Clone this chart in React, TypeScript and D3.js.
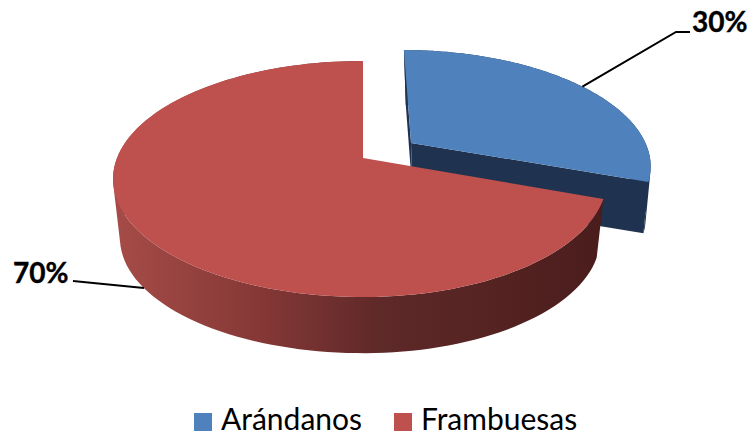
import React from 'react';
import * as d3 from 'd3';

const width = 751;
const height = 439;

const categories = ['Arándanos', 'Frambuesas'];
const values = [30, 70];
const labels = ['30%', '70%'];
const colors = ['#4F81BD', '#BE504D'];
const sideColors = ['#1F3350', '#4C1D1D'];

// perspective of the pie plane
const cx = 363;
const topY = 158;
const bottomY = 218;
const radiusLeft = 246;
const radiusRight = 240; // right half looks a bit narrower in the picture
const radiusY = 114.3;
const persp = 0.178;
const bottomScale = 0.972;
const warp = 0.05;
const explodeX = 0.205;
const explodeY = -0.135;
// exploded slice sits a little shallower than the main one
const lowerShiftX = 3;
const lowerShiftY = -8;

type Pt = [number, number];

// a = clockwise angle from 12 o'clock, r = unit radius
function project(a: number, r: number, e: number, lower: boolean): Pt {
  const b = a - warp * Math.sin(2 * a);
  const X = r * Math.sin(b) + e * explodeX;
  const Y = -r * Math.cos(b) + e * explodeY;
  const d = 1 - persp * Y;
  const s = lower ? bottomScale : 1;
  const rx = X > 0 ? radiusRight : radiusLeft;
  const px = cx + (s * rx * X) / d;
  const py = (lower ? bottomY : topY) + (s * radiusY * Y) / d;
  return lower ? [px + e * lowerShiftX, py + e * lowerShiftY] : [px, py];
}

const line = d3.line<Pt>();

function arcPoints(a0: number, a1: number, e: number, lower: boolean): Pt[] {
  const n = 120;
  return d3.range(n + 1).map((i) => project(a0 + ((a1 - a0) * i) / n, 1, e, lower));
}

// one path of many quads, so the silhouette between both planes stays closed
function wallPath(up: Pt[], low: Pt[]): string {
  return d3
    .range(up.length - 1)
    .map((i) => {
      const q = [up[i], up[i + 1], low[i + 1], low[i]];
      // keep the winding the same for every quad
      return line(d3.polygonArea(q) < 0 ? q.reverse() : q) + 'Z';
    })
    .join('');
}

export default function App() {
  const pie = d3.pie<number>().sort(null)(values);
  const [blue, red] = pie;
  const blueMid = (blue.startAngle + blue.endAngle) / 2;
  const redMid = (red.startAngle + red.endAngle) / 2;

  const blueTopArc = arcPoints(blue.startAngle, blue.endAngle, 1, false);
  const blueLowArc = arcPoints(blue.startAngle, blue.endAngle, 1, true);
  const blueApex = project(0, 0, 1, false);
  const blueApexLow = project(0, 0, 1, true);
  const lastBlue = blueTopArc.length - 1;

  const redTopArc = arcPoints(red.startAngle, red.endAngle, 0, false);
  const redLowArc = arcPoints(red.startAngle, red.endAngle, 0, true);
  const redApex = project(0, 0, 0, false);

  // leaders start where the slices' middles land, undoing the angle warp
  const anchor30 = project(blueMid + 0.07, 1, 1, false);
  const anchor70 = project(redMid + 0.07, 1, 0, true);

  const legendX = d3.scaleOrdinal<string, number>().domain(categories).range([194, 394]);

  return (
    <svg
      width={width}
      height={height}
      style={{ position: 'absolute', left: 0, top: 0, background: '#fff' }}
    >
      <defs>
        <linearGradient id="redWall" gradientUnits="userSpaceOnUse" x1={113} x2={602} y1={0} y2={0}>
          <stop offset="0" stopColor="#A64C48" />
          <stop offset="0.3" stopColor="#853836" />
          <stop offset="0.55" stopColor="#5E2928" />
          <stop offset="1" stopColor="#4A1D1C" />
        </linearGradient>
      </defs>

      {/* exploded slice */}
      <path
        d={line([blueApex, blueTopArc[lastBlue], blueLowArc[lastBlue], blueApexLow])! + 'Z'}
        fill={sideColors[0]}
      />
      <path
        d={line([blueApex, blueTopArc[0], blueLowArc[0], blueApexLow])! + 'Z'}
        fill={sideColors[0]}
      />
      <path d={wallPath(blueTopArc, blueLowArc)} fill={sideColors[0]} />
      <path d={line([blueApex, ...blueTopArc])! + 'Z'} fill={colors[0]} />

      {/* main slice */}
      <path d={wallPath(redTopArc, redLowArc)} fill="url(#redWall)" />
      <path d={line([redApex, ...redTopArc])! + 'Z'} fill={colors[1]} />

      {/* leader lines */}
      <path
        d={line([anchor30, [676, 32], [690, 32]])!}
        fill="none"
        stroke="#000"
        strokeWidth={2}
      />
      <path d={line([anchor70, [73, 281]])!} fill="none" stroke="#000" strokeWidth={2} />

      <text
        x={692}
        y={32}
        fontFamily="Lato"
        fontWeight={700}
        fontSize={28}
        fill="#000"
        stroke="#000"
        strokeWidth={0.4}
      >
        {labels[0]}
      </text>
      <text
        x={13}
        y={283}
        fontFamily="Lato"
        fontWeight={700}
        fontSize={28}
        fill="#000"
        stroke="#000"
        strokeWidth={0.4}
      >
        {labels[1]}
      </text>

      {/* legend */}
      {categories.map((c, i) => (
        <g key={c}>
          <rect x={legendX(c)} y={413} width={18} height={18} fill={colors[i]} />
          <text x={legendX(c) + 27} y={430} fontFamily="Lato" fontSize={30} fill="#000">
            {c}
          </text>
        </g>
      ))}
    </svg>
  );
}
